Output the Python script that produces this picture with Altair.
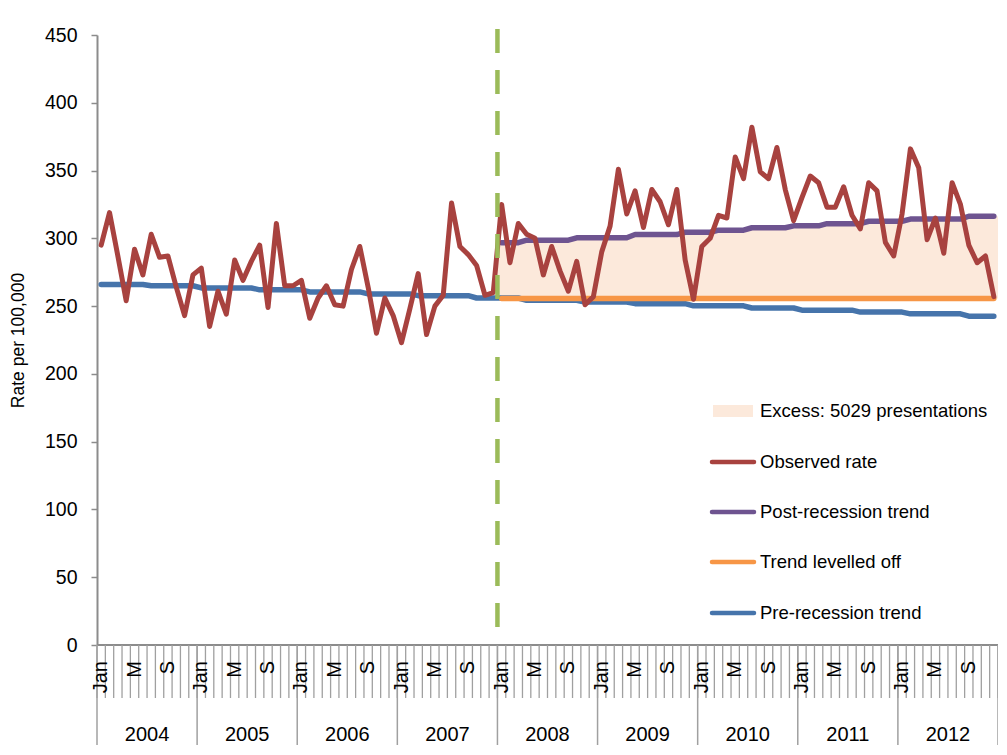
import altair as alt
import pandas as pd

# ---------------- data ----------------
years = ["2004", "2005", "2006", "2007", "2008", "2009", "2010", "2011", "2012"]
month_labels = ["Jan", "", "", "", "M", "", "", "", "S", "", "", ""]

observed_2004 = [295, 319, 287, 254, 292, 273, 303, 286, 287, 264, 243, 273]
observed_2005 = [278, 235, 261, 244, 284, 269, 283, 295, 249, 311, 265, 265]
observed_2006 = [269, 241, 256, 265, 251, 250, 277, 294, 264, 230, 256, 243]
observed_2007 = [223, 248, 274, 229, 250, 258, 326, 294, 288, 280, 258, 260]
observed_2008 = [325, 282, 311, 303, 300, 273, 294, 276, 261, 283, 251, 257]
observed_2009 = [290, 309, 351, 318, 335, 308, 336, 327, 310, 336, 284, 255]
observed_2010 = [294, 300, 317, 315, 360, 344, 382, 349, 344, 367, 336, 313]
observed_2011 = [330, 346, 341, 323, 323, 338, 317, 307, 341, 335, 297, 287]
observed_2012 = [318, 366, 352, 299, 315, 289, 341, 325, 295, 282, 287, 257]
observed = (observed_2004 + observed_2005 + observed_2006 + observed_2007 + observed_2008
            + observed_2009 + observed_2010 + observed_2011 + observed_2012)

pre_2004 = [266, 266, 266, 266, 266, 266, 265, 265, 265, 265, 265, 265]
pre_2005 = [263.4, 263.4, 263.4, 263.4, 263.4, 263.4, 263.4, 262, 262, 262, 262, 262]
pre_2006 = [262, 260.5, 260.5, 260.5, 260.5, 260.5, 260.5, 260.5, 259, 259, 259, 259]
pre_2007 = [259, 259, 257.7, 257.7, 257.7, 257.7, 257.7, 257.7, 257.7, 256, 256, 256]
pre_2008 = [256, 256, 256, 254.3, 254.3, 254.3, 254.3, 254.3, 254.3, 254.3, 253, 253]
pre_2009 = [253, 253, 253, 253, 251.8, 251.8, 251.8, 251.8, 251.8, 251.8, 251.8, 250.2]
pre_2010 = [250.2, 250.2, 250.2, 250.2, 250.2, 250.2, 248.6, 248.6, 248.6, 248.6, 248.6, 248.6]
pre_2011 = [247, 247, 247, 247, 247, 247, 247, 245.6, 245.6, 245.6, 245.6, 245.6]
pre_2012 = [245.6, 244.3, 244.3, 244.3, 244.3, 244.3, 244.3, 244.3, 242.6, 242.6, 242.6, 242.6]
pre_trend = (pre_2004 + pre_2005 + pre_2006 + pre_2007 + pre_2008
             + pre_2009 + pre_2010 + pre_2011 + pre_2012)

post_2008 = [296.8, 296.8, 296.8, 298.6, 298.6, 298.6, 298.6, 298.6, 298.6, 300.4, 300.4, 300.4]
post_2009 = [300.4, 300.4, 300.4, 300.4, 302.8, 302.8, 302.8, 302.8, 302.8, 302.8, 304.5, 304.5]
post_2010 = [304.5, 304.5, 306, 306, 306, 306, 307.8, 307.8, 307.8, 307.8, 307.8, 309.2]
post_2011 = [309.2, 309.2, 309.2, 310.8, 310.8, 310.8, 310.8, 310.8, 312.6, 312.6, 312.6, 312.6]
post_2012 = [312.6, 314.2, 314.2, 314.2, 314.2, 314.2, 314.2, 314.2, 316.3, 316.3, 316.3, 316.3]
post_trend = post_2008 + post_2009 + post_2010 + post_2011 + post_2012

levelled = [255.7] * 60

legend_labels = ["Excess: 5029 presentations", "Observed rate", "Post-recession trend",
                 "Trend levelled off", "Pre-recession trend"]

# ---------------- styling ----------------
FONT = "Liberation Sans"
W, H = 901, 610
C_OBS = "#A8423F"
C_POST = "#6E5490"
C_LEV = "#F79646"
C_PRE = "#4674AB"
C_FILL = "#FCE9DB"
C_REC = "#9BBB59"
C_AX = "#8C8C8C"
legend_colors = [C_FILL, C_OBS, C_POST, C_LEV, C_PRE]

n = len(observed)
start_post = n - len(post_trend)

obs_df = pd.DataFrame({"t": list(range(n)), "v": observed})
pre_df = pd.DataFrame({"t": list(range(n)), "v": pre_trend})
post_df = pd.DataFrame({"t": list(range(start_post, n)), "v": post_trend})
lev_df = pd.DataFrame({"t": list(range(start_post, n)), "v": levelled})
area_df = pd.DataFrame({
    "t": [start_post - 0.5] + list(range(start_post, n)) + [n - 0.5],
    "lo": [levelled[0]] + levelled + [levelled[-1]],
    "hi": [post_trend[0]] + post_trend + [post_trend[-1]],
})
rec_df = pd.DataFrame({"t": [start_post - 0.5]})
bound_df = pd.DataFrame({"t": [i - 0.5 for i in range(n + 1)]})
yearb_df = pd.DataFrame({"t": [12 * k - 0.5 for k in range(len(years) + 1)]})
mlab_df = pd.DataFrame({"t": list(range(n)), "lab": month_labels * len(years)})
mlab_df = mlab_df[mlab_df["lab"] != ""]
ylab_df = pd.DataFrame({"t": [12 * k + 5.5 for k in range(len(years))], "lab": years})

xs = alt.Scale(domain=[-0.5, n - 0.5], nice=False, zero=False)
ys = alt.Scale(domain=[0, 450], nice=False, zero=True)

yaxis = alt.Axis(
    values=list(range(0, 451, 50)), title="Rate per 100,000", grid=False,
    labelFont=FONT, labelFontSize=19.5, labelColor="black", labelPadding=14,
    tickSize=6, tickColor=C_AX, tickWidth=1.5, domainColor=C_AX, domainWidth=2,
    titleFont=FONT, titleFontSize=17.5, titleFontWeight="normal", titleColor="black",
    titleAngle=270, titleX=-79, titleY=305, titleAlign="center", titleBaseline="middle",
)

X = alt.X("t:Q", scale=xs, axis=None)
Y = alt.Y("v:Q", scale=ys, axis=yaxis)

area = alt.Chart(area_df).mark_area(color=C_FILL, opacity=1).encode(
    x=X, y=alt.Y("lo:Q", scale=ys, axis=yaxis), y2="hi:Q")


def line(df, color, width):
    return alt.Chart(df).mark_line(color=color, strokeWidth=width, strokeCap="round",
                                   strokeJoin="round").encode(x=X, y=Y)


pre_line = line(pre_df, C_PRE, 5.5)
lev_line = line(lev_df, C_LEV, 5.5)
post_line = line(post_df, C_POST, 5.5)
obs_line = line(obs_df, C_OBS, 5)

rec_rule = alt.Chart(rec_df).mark_rule(color=C_REC, strokeWidth=4.5, strokeDash=[24, 17]).encode(
    x=X, y=alt.value(-6), y2=alt.value(H))

# x axis pieces
x_domain = alt.Chart(rec_df).mark_rule(color=C_AX, strokeWidth=2).encode(
    x=alt.value(0), x2=alt.value(W + 3), y=alt.value(H))
month_ticks = alt.Chart(bound_df).mark_rule(color="#A0A0A0", strokeWidth=1.3).encode(
    x=X, y=alt.value(H), y2=alt.value(H + 53))
year_ticks = alt.Chart(yearb_df).mark_rule(color="#A0A0A0", strokeWidth=1.5).encode(
    x=X, y=alt.value(H), y2=alt.value(H + 112))
month_text = alt.Chart(mlab_df).mark_text(
    font=FONT, fontSize=20, angle=270, align="right", baseline="middle", color="black"
).encode(x=X, y=alt.value(H + 16), text="lab:N")
year_text = alt.Chart(ylab_df).mark_text(
    font=FONT, fontSize=20, align="center", baseline="middle", color="black"
).encode(x=X, y=alt.value(H + 90), text="lab:N")

# legend
leg_y = [376, 427, 477, 527, 578]
leg_layers = []
for i, (lab, col) in enumerate(zip(legend_labels, legend_colors)):
    ldf = pd.DataFrame({"lab": [lab]})
    if i == 0:
        sw = alt.Chart(ldf).mark_rect(color=col).encode(
            x=alt.value(616), x2=alt.value(656), y=alt.value(leg_y[i] - 6), y2=alt.value(leg_y[i] + 6))
    else:
        sw = alt.Chart(ldf).mark_rule(color=col, strokeWidth=4.5, strokeCap="round").encode(
            x=alt.value(615), x2=alt.value(657), y=alt.value(leg_y[i]))
    tx = alt.Chart(ldf).mark_text(
        font=FONT, fontSize=18.5, align="left", baseline="middle", color="black"
    ).encode(x=alt.value(663), y=alt.value(leg_y[i]), text="lab:N")
    leg_layers += [sw, tx]

chart = alt.layer(
    area, pre_line, lev_line, post_line, obs_line, rec_rule,
    x_domain, month_ticks, year_ticks, month_text, year_text, *leg_layers
).properties(
    width=W, height=H,
    padding={"left": 89, "top": 27, "right": 0, "bottom": 100},
    autosize=alt.AutoSizeParams(type="none"),
).configure_view(stroke=None)

chart.save("out.html", embed_options={"renderer": "svg", "actions": False})
